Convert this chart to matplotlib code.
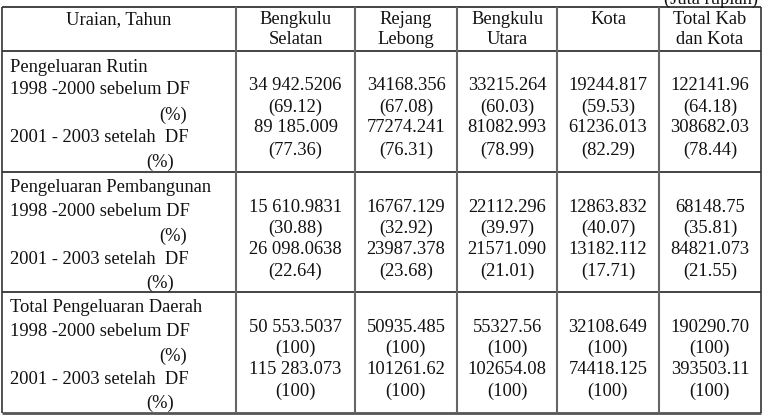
import matplotlib.pyplot as plt

plt.rcParams['font.family'] = ['Liberation Serif', 'DejaVu Serif']

# table content
col_heads = [["Bengkulu", "Selatan"], ["Rejang", "Lebong"], ["Bengkulu", "Utara"],
             ["Kota", ""], ["Total Kab", "dan Kota"]]
sections = ["Pengeluaran Rutin", "Pengeluaran Pembangunan", "Total Pengeluaran Daerah"]
period_before = "1998 -2000 sebelum DF"
period_after = "2001 - 2003 setelah  DF"

rutin_before = ["34 942.5206", "34168.356", "33215.264", "19244.817", "122141.96"]
rutin_before_pct = ["69.12", "67.08", "60.03", "59.53", "64.18"]
rutin_after = ["89 185.009", "77274.241", "81082.993", "61236.013", "308682.03"]
rutin_after_pct = ["77.36", "76.31", "78.99", "82.29", "78.44"]

pemb_before = ["15 610.9831", "16767.129", "22112.296", "12863.832", "68148.75"]
pemb_before_pct = ["30.88", "32.92", "39.97", "40.07", "35.81"]
pemb_after = ["26 098.0638", "23987.378", "21571.090", "13182.112", "84821.073"]
pemb_after_pct = ["22.64", "23.68", "21.01", "17.71", "21.55"]

total_before = ["50 553.5037", "50935.485", "55327.56", "32108.649", "190290.70"]
total_before_pct = ["100", "100", "100", "100", "100"]
total_after = ["115 283.073", "101261.62", "102654.08", "74418.125", "393503.11"]
total_after_pct = ["100", "100", "100", "100", "100"]

section_data = [
    (rutin_before, rutin_before_pct, rutin_after, rutin_after_pct),
    (pemb_before, pemb_before_pct, pemb_after, pemb_after_pct),
    (total_before, total_before_pct, total_after, total_after_pct),
]

# layout in pixels
col_x = [2, 236, 355, 457, 557, 659, 761]
row_y = [7, 51, 172, 292, 413]
fs = 13.3
tc = '#111111'

fig = plt.figure(figsize=(7.64, 4.16), dpi=100)
ax = fig.add_axes([0, 0, 1, 1])
ax.set_xlim(0, 764)
ax.set_ylim(416, 0)
ax.axis('off')

# grid lines
ax.hlines(row_y[:-1], col_x[0], col_x[-1], colors='#111111', lw=1.1)
ax.hlines(row_y[-1], col_x[0], col_x[-1], colors='#555555', lw=2.0)
ax.vlines(col_x[1:-1], row_y[0], row_y[-1], colors='#666666', lw=1.5)
ax.vlines([col_x[0], col_x[-1]], row_y[0], row_y[-1], colors='#333333', lw=1.2)

# unit note, clipped at the top like the source
ax.text(758, -1, "(Juta rupiah)", ha='right', va='center', fontsize=fs, color=tc)

# header
ax.text((col_x[0] + col_x[1]) / 2, 20, "Uraian, Tahun", ha='center', va='center',
        fontsize=fs, color=tc)
for i, (l1, l2) in enumerate(col_heads):
    cx = (col_x[i + 1] + col_x[i + 2]) / 2
    ax.text(cx, 20, l1, ha='center', va='center', fontsize=fs, color=tc)
    if l2:
        ax.text(cx, 39, l2, ha='center', va='center', fontsize=fs, color=tc)

label_off = [16, 39, 64, 87, 111]
num_off = [35, 56, 77, 99]

for s, name in enumerate(sections):
    top = row_y[s + 1]
    ax.text(10, top + label_off[0], name, ha='left', va='center', fontsize=fs, color=tc)
    ax.text(10, top + label_off[1], period_before, ha='left', va='center', fontsize=fs, color=tc)
    ax.text(173, top + label_off[2], "(%)", ha='center', va='center', fontsize=fs, color=tc)
    ax.text(10, top + label_off[3], period_after, ha='left', va='center', fontsize=fs, color=tc)
    ax.text(160, top + label_off[4], "(%)", ha='center', va='center', fontsize=fs, color=tc)

    before, before_pct, after, after_pct = section_data[s]
    for i in range(len(before)):
        cx = (col_x[i + 1] + col_x[i + 2]) / 2
        lines = [before[i], "(" + before_pct[i] + ")", after[i], "(" + after_pct[i] + ")"]
        for k, txt in enumerate(lines):
            ax.text(cx, top + num_off[k], txt, ha='center', va='center', fontsize=fs, color=tc)

fig.savefig("out.png", dpi=100)
